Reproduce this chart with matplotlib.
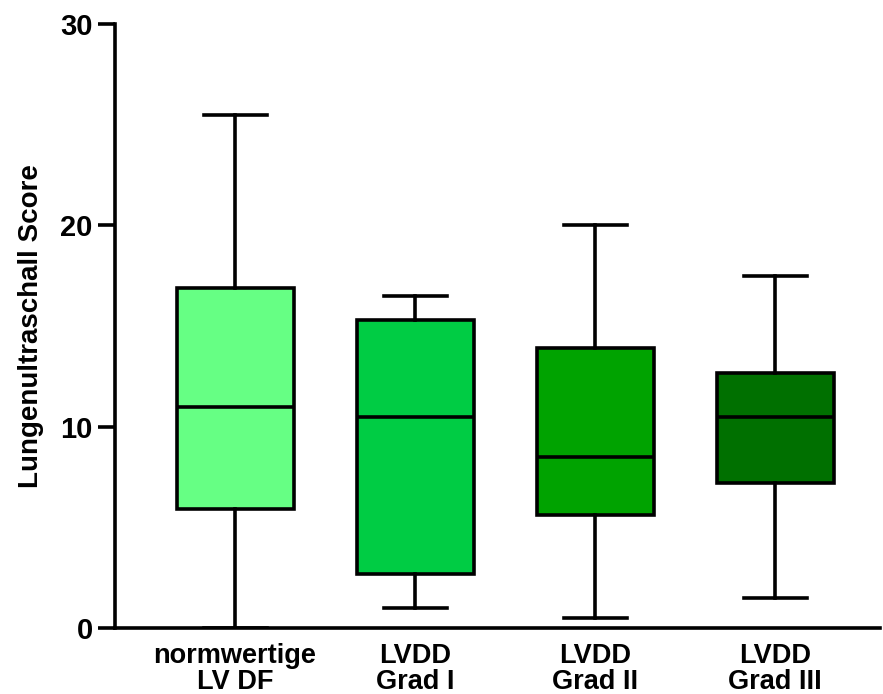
import matplotlib.pyplot as plt

plt.rcParams['font.family'] = ['Liberation Sans', 'DejaVu Sans']
plt.rcParams['font.weight'] = 'bold'

groups = ['normwertige\nLV DF', 'LVDD\nGrad I', 'LVDD\nGrad II', 'LVDD\nGrad III']
whisk_low = [0.0, 1.0, 0.5, 1.5]
q1 = [5.9, 2.7, 5.6, 7.2]
median = [11.0, 10.5, 8.5, 10.5]
q3 = [16.9, 15.3, 13.9, 12.65]
whisk_high = [25.5, 16.5, 20.0, 17.5]
colors = ['#66FF84', '#00CC44', '#00A300', '#007000']

stats = []
for i in range(len(groups)):
    stats.append(dict(whislo=whisk_low[i], q1=q1[i], med=median[i],
                      q3=q3[i], whishi=whisk_high[i], fliers=[]))

fig = plt.figure(figsize=(8.83, 6.94), dpi=100)
ax = fig.add_axes([115 / 883, 66 / 694, 765 / 883, 604 / 694])

lw = 2.6
bp = ax.bxp(stats, positions=[1, 2, 3, 4], widths=0.65, patch_artist=True,
            showfliers=False,
            boxprops=dict(linewidth=lw, edgecolor='black'),
            medianprops=dict(linewidth=lw, color='black'),
            whiskerprops=dict(linewidth=lw, color='black'),
            capprops=dict(linewidth=lw, color='black'),
            capwidths=0.35)
for patch, c in zip(bp['boxes'], colors):
    patch.set_facecolor(c)

ax.set_xlim(0.333, 4.583)
ax.set_ylim(0, 30)
ax.set_yticks([0, 10, 20, 30])
ax.set_xticks([1, 2, 3, 4])
ax.set_xticklabels(groups, fontsize=19.5, fontweight='bold', linespacing=1.0)
ax.tick_params(axis='x', length=0, pad=11)
ax.tick_params(axis='y', length=12, width=lw, labelsize=21, pad=4)
for lab in ax.get_yticklabels():
    lab.set_fontweight('bold')

ax.spines['top'].set_visible(False)
ax.spines['right'].set_visible(False)
ax.spines['left'].set_linewidth(lw)
ax.spines['bottom'].set_linewidth(lw)
for sp in ax.spines.values():
    sp.set_zorder(5)

ax.set_ylabel('Lungenultraschall Score', fontsize=20, fontweight='bold', labelpad=12)

fig.savefig('out.png', dpi=100)
